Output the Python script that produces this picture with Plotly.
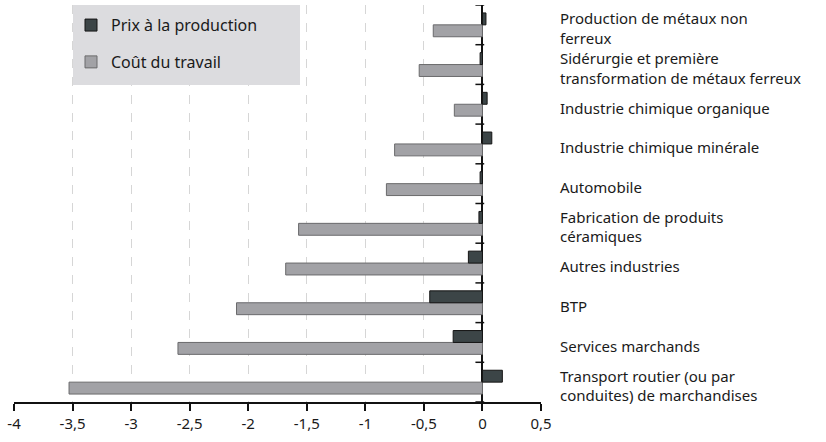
import plotly.graph_objects as go

# Data (ordered bottom -> top)
categories = [
    "Transport routier (ou par<br>conduites) de marchandises",
    "Services marchands",
    "BTP",
    "Autres industries",
    "Fabrication de produits<br>céramiques",
    "Automobile",
    "Industrie chimique minérale",
    "Industrie chimique organique",
    "Sidérurgie et première<br>transformation de métaux ferreux",
    "Production de métaux non<br>ferreux",
]
prix_production = [0.17, -0.25, -0.45, -0.12, -0.03, -0.02, 0.08, 0.04, -0.02, 0.03]
cout_travail = [-3.53, -2.60, -2.10, -1.68, -1.57, -0.82, -0.75, -0.24, -0.54, -0.42]
x_tickvals = [-4, -3.5, -3, -2.5, -2, -1.5, -1, -0.5, 0, 0.5]
x_ticktext = ["-4", "-3,5", "-3", "-2,5", "-2", "-1,5", "-1", "-0,5", "0", "0,5"]

FONT = "Noto Sans"
ypos = list(range(len(categories)))

fig = go.Figure()
fig.add_trace(go.Bar(
    y=ypos, x=cout_travail, orientation="h", name="Coût du travail",
    marker=dict(color="#a2a2a6", line=dict(color="#6a6a6c", width=1)),
    legendgroup="b", legendrank=2,
))
fig.add_trace(go.Bar(
    y=ypos, x=prix_production, orientation="h", name="Prix à la production",
    marker=dict(color="#3c4547", line=dict(color="#151515", width=1)),
    legendgroup="a", legendrank=1,
))

# small tick marks on the zero line between categories
shapes = []
for i in range(len(categories) + 1):
    shapes.append(dict(type="line", xref="x", yref="y", x0=-0.06, x1=0.015,
                       y0=i - 0.5, y1=i - 0.5, line=dict(color="#111", width=1.5)))
# legend background box
shapes.append(dict(type="rect", xref="paper", yref="paper",
                   x0=(73 - 14) / 527, x1=(300 - 14) / 527,
                   y0=1 - (85 - 5) / 397, y1=1.0,
                   fillcolor="#dcdcdf", line=dict(width=0), layer="above"))

fig.update_layout(
    width=826, height=442,
    margin=dict(l=14, r=285, t=5, b=40),
    paper_bgcolor="white", plot_bgcolor="white",
    barmode="group", bargap=0.4, bargroupgap=0,
    font=dict(family=FONT, size=15, color="#1a1a1a"),
    shapes=shapes,
    showlegend=True,
    legend=dict(x=(71 - 14) / 527, y=0.992, xanchor="left", yanchor="top",
                bgcolor="rgba(0,0,0,0)", font=dict(size=16, color="#1a1a1a"),
                tracegroupgap=13, itemwidth=30),
    xaxis=dict(range=[-4, 0.5], tickvals=x_tickvals, ticktext=x_ticktext,
               showgrid=True, gridcolor="#d6d6d6", griddash="dash", gridwidth=1,
               zeroline=True, zerolinecolor="#111", zerolinewidth=1.5,
               showline=True, linecolor="#111", linewidth=1.5,
               ticks="outside", ticklen=7, tickcolor="#111", tickwidth=1.5,
               tickfont=dict(size=15)),
    yaxis=dict(range=[-0.5, len(categories) - 0.5], tickvals=ypos, ticktext=categories,
               side="right", showgrid=False, zeroline=False, showline=False,
               ticks="", ticklabelstandoff=18, ticklabelshift=4,
               tickfont=dict(size=15)),
)

fig.write_html("out.html", config={"displayModeBar": False},
               post_script="document.body.style.margin='0';")
